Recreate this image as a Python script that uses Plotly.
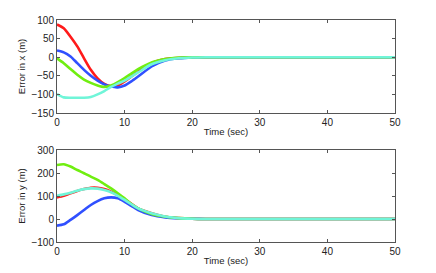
import plotly.graph_objects as go
from plotly.subplots import make_subplots

t = [0, 1, 2, 3, 4, 5, 6, 7, 8, 9, 10, 11, 12, 14, 16, 18, 20, 22, 25, 30, 40, 50]

ex_red   = [88, 78, 55, 29, -3, -34, -57, -72, -78, -76, -65, -52, -39, -16, -5, -2, -0.5, 0, 0, 0, 0, 0]
ex_blue  = [18, 13, 2, -16, -34, -50, -63, -73, -79, -81, -76, -65, -52, -25, -9, -3, -0.5, 0, 0, 0, 0, 0]
ex_green = [-3, -16, -32, -47, -60, -69, -76, -80, -76, -67, -56, -44, -32, -14, -5, -1, -0.3, 0, 0, 0, 0, 0]
ex_cyan  = [-99, -108, -109, -109, -109, -107, -100, -91, -80, -71, -63, -52, -41, -19, -8, -3, -0.8, 0, 0, 0, 0, 0]

ey_red   = [94, 101, 112, 122, 130, 136, 136, 130, 119, 104, 86, 66, 46, 25, 10, 4, 1, 0, 0, 0, 0, 0]
ey_blue  = [-29, -23, -4, 17, 39, 61, 78, 90, 94, 90, 75, 57, 39, 17, 7, 3, 1, 0, 0, 0, 0, 0]
ey_green = [235, 238, 228, 213, 199, 184, 170, 152, 133, 112, 90, 65, 46, 22, 10, 4, 1, 0, 0, 0, 0, 0]
ey_cyan  = [101, 107, 114, 123, 130, 133, 132, 126, 116, 101, 83, 64, 46, 25, 11, 4, 1, 0, 0, 0, 0, 0]

colors = ["#ff1a1a", "#3050ff", "#70ee10", "#70f5d8"]

fig = make_subplots(rows=2, cols=1, vertical_spacing=0.0)

for ys, c in zip([ex_red, ex_blue, ex_green, ex_cyan], colors):
    fig.add_trace(go.Scatter(x=t, y=ys, mode="lines", line=dict(color=c, width=2.6, shape="spline", smoothing=0.7),
                             showlegend=False), row=1, col=1)
for ys, c in zip([ey_red, ey_blue, ey_green, ey_cyan], colors):
    fig.add_trace(go.Scatter(x=t, y=ys, mode="lines", line=dict(color=c, width=2.6, shape="spline", smoothing=0.7),
                             showlegend=False), row=2, col=1)

FONT = "Liberation Sans, Arial"
axis_common = dict(showgrid=False, zeroline=False, showline=True, mirror="ticks", linecolor="#555555",
                   linewidth=1, ticks="inside", ticklen=3, tickcolor="#555555", automargin=False,
                   tickfont=dict(family=FONT, size=10, color="#222222"))

fig.update_layout(
    width=436, height=273, paper_bgcolor="white", plot_bgcolor="white",
    margin=dict(l=0, r=0, t=0, b=0, autoexpand=False),
    xaxis=dict(domain=[57/436, 395/436], range=[0, 50], tickvals=[0, 10, 20, 30, 40, 50],
               title=dict(text="Time (sec)", font=dict(family=FONT, size=9.5, color="#222222"), standoff=1),
               anchor="y", **axis_common),
    yaxis=dict(domain=[1 - 113/273, 1 - 20/273], range=[-150, 100], tickvals=[-150, -100, -50, 0, 50, 100],
               title=dict(text="Error in x (m)", font=dict(family=FONT, size=9.5, color="#222222"), standoff=4),
               anchor="x", **axis_common),
    xaxis2=dict(domain=[57/436, 395/436], range=[0, 50], tickvals=[0, 10, 20, 30, 40, 50],
                title=dict(text="Time (sec)", font=dict(family=FONT, size=9.5, color="#222222"), standoff=1),
                anchor="y2", **axis_common),
    yaxis2=dict(domain=[1 - 242/273, 1 - 150/273], range=[-100, 300], tickvals=[-100, 0, 100, 200, 300],
                title=dict(text="Error in y (m)", font=dict(family=FONT, size=9.5, color="#222222"), standoff=4),
                anchor="x2", **axis_common),
)

fig.write_html("out.html", config={"displayModeBar": False},
               post_script="document.body.style.margin='0';document.body.style.overflow='hidden';")
